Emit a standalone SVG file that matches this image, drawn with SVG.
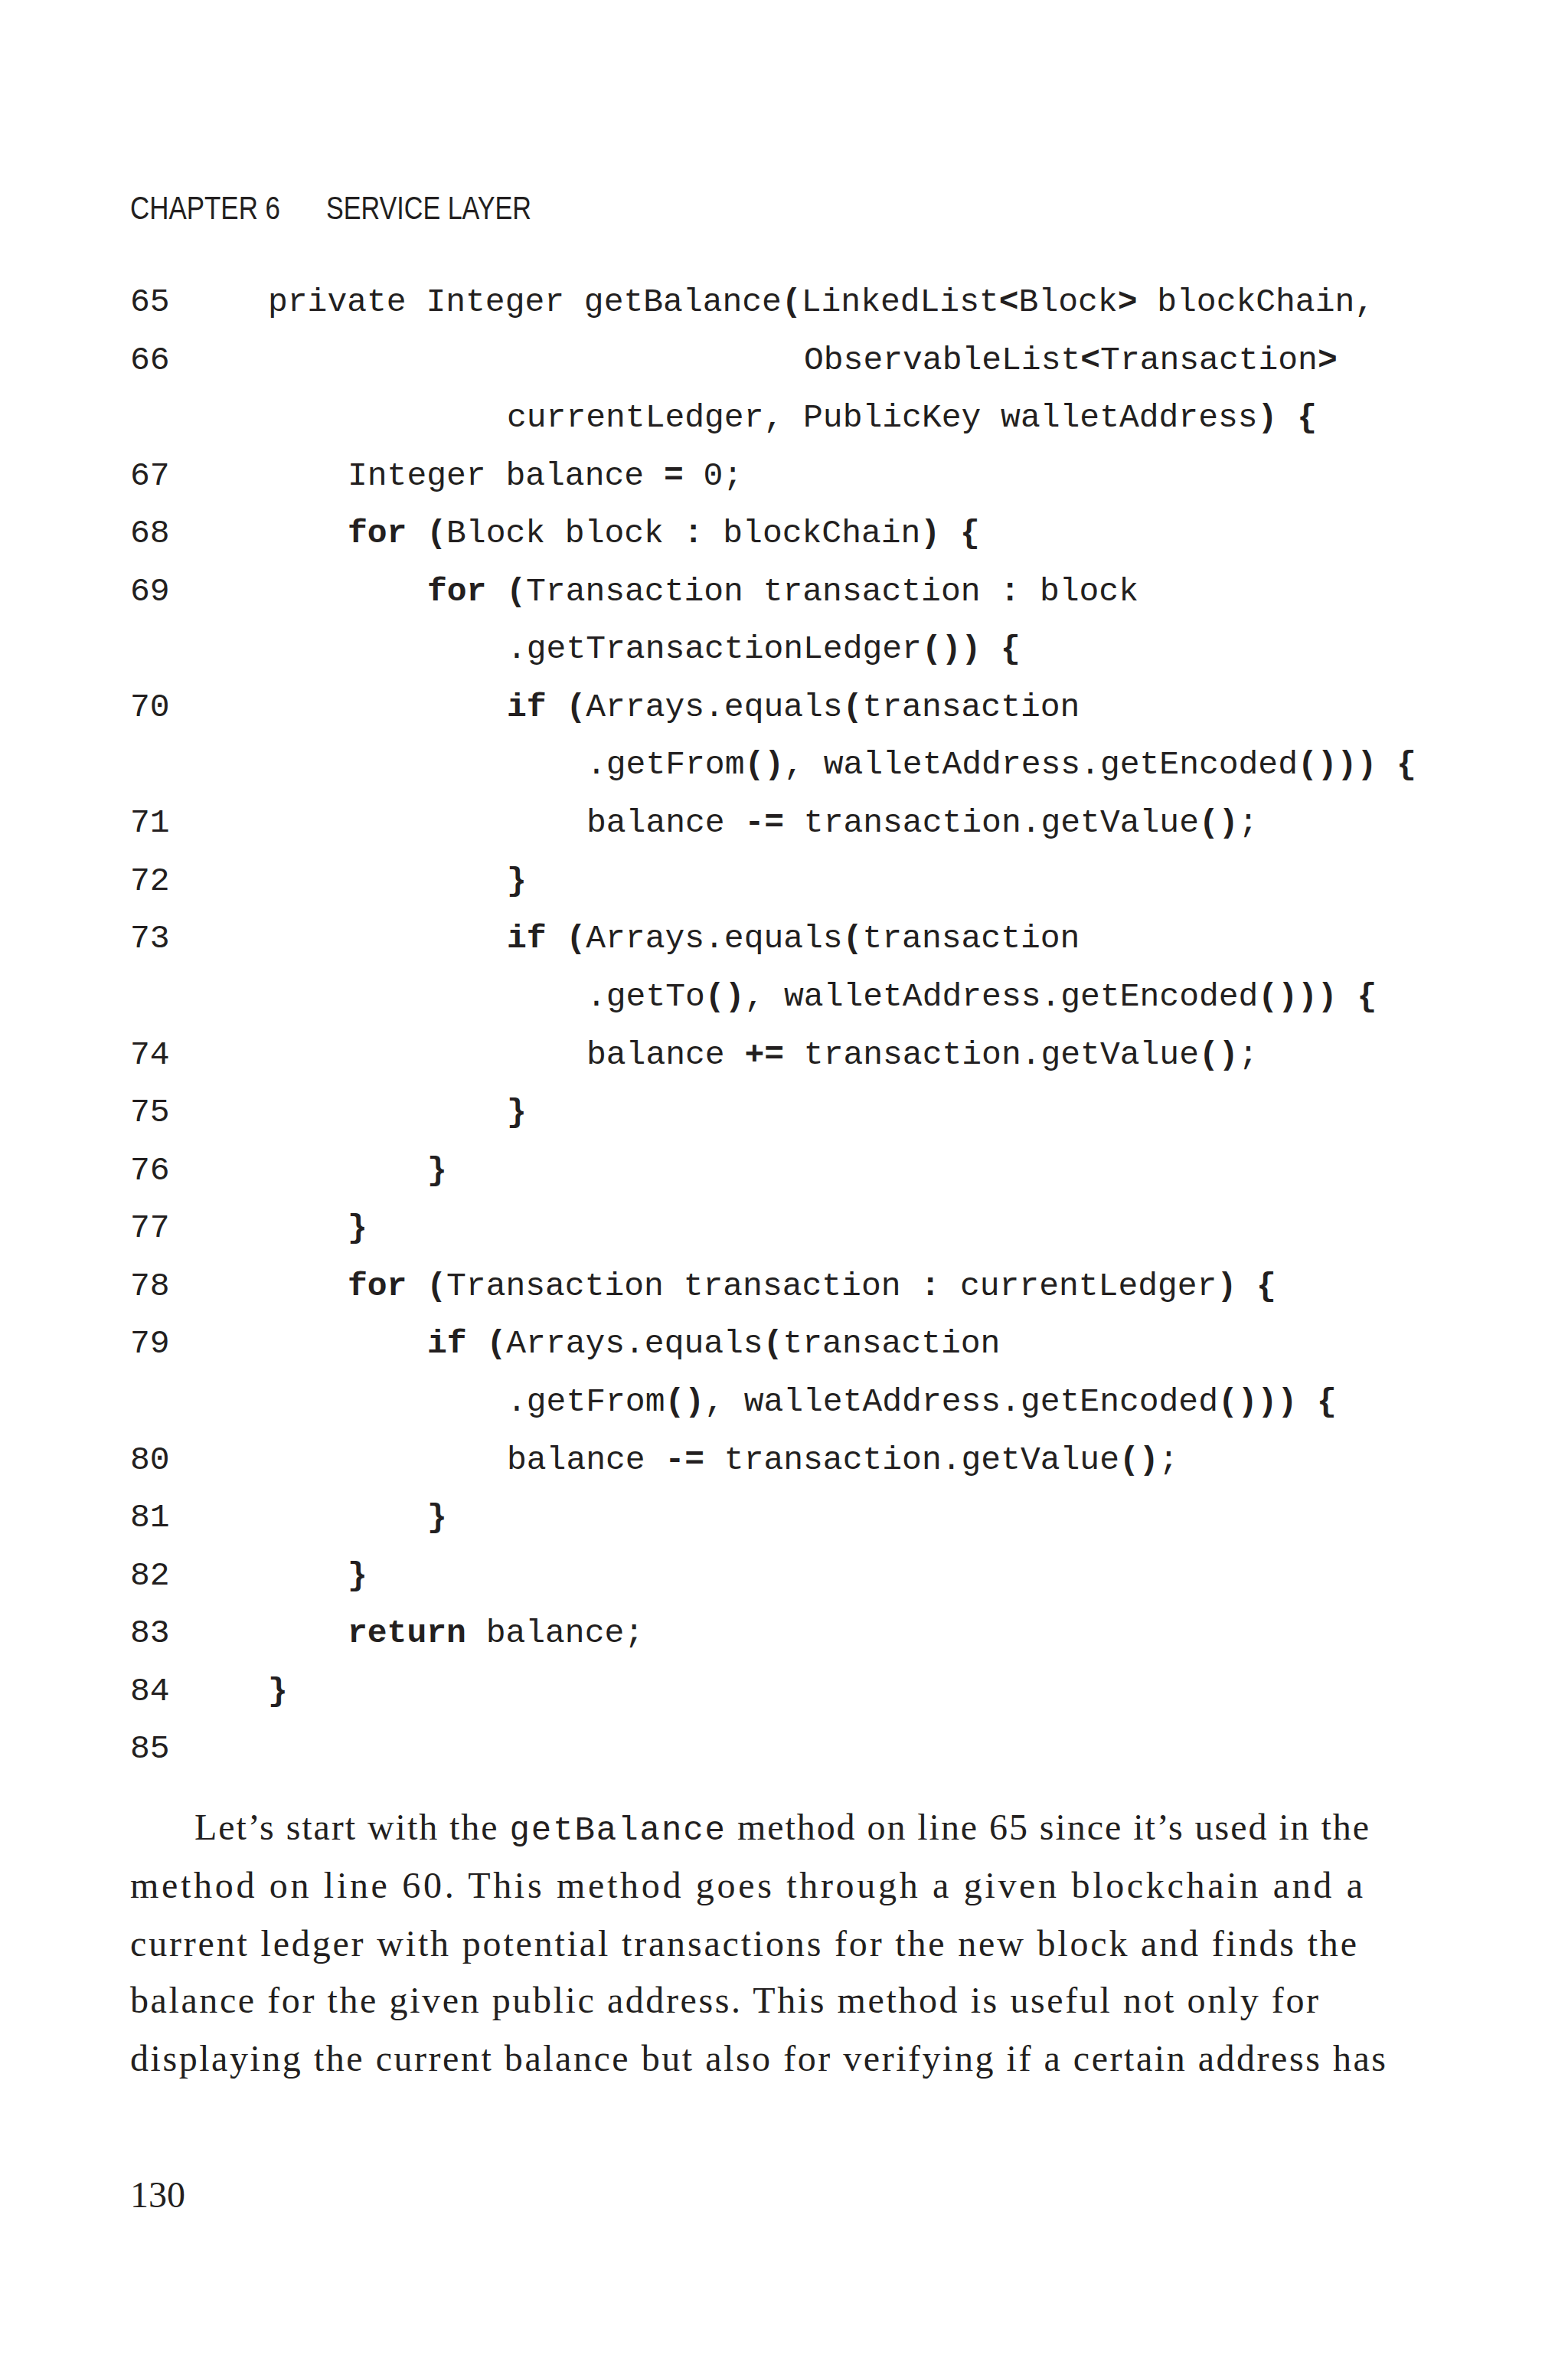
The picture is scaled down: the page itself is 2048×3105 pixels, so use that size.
<svg xmlns="http://www.w3.org/2000/svg" width="2048" height="3105" viewBox="0 0 2048 3105">
<style>
.c{font-family:"Liberation Mono","DejaVu Sans Mono",monospace;font-size:43px;fill:#231f20}
.n{font-family:"Liberation Mono",monospace;font-size:43px;fill:#231f20}
.b{font-weight:bold}
.h{font-family:"Liberation Sans",Arial,sans-serif;font-size:42px;fill:#231f20}
.p{font-family:"Liberation Serif","Times New Roman",serif;font-size:48px;fill:#231f20}
.pm{font-family:"Liberation Mono",monospace;font-size:44px}
</style>
<rect width="2048" height="3105" fill="#fff"/>
<text class="h" x="170" y="286" textLength="196" lengthAdjust="spacingAndGlyphs">CHAPTER 6</text>
<text class="h" x="426" y="286" textLength="268" lengthAdjust="spacingAndGlyphs">SERVICE LAYER</text>
<g class="n">
<text x="170" y="406">65</text><text x="170" y="482">66</text><text x="170" y="633">67</text><text x="170" y="708">68</text><text x="170" y="784">69</text><text x="170" y="935">70</text><text x="170" y="1086">71</text><text x="170" y="1162">72</text><text x="170" y="1237">73</text><text x="170" y="1389">74</text><text x="170" y="1464">75</text><text x="170" y="1540">76</text><text x="170" y="1615">77</text><text x="170" y="1691">78</text><text x="170" y="1766">79</text><text x="170" y="1918">80</text><text x="170" y="1993">81</text><text x="170" y="2069">82</text><text x="170" y="2144">83</text><text x="170" y="2220">84</text><text x="170" y="2295">85</text>
</g>
<g class="c">
<text x="350" y="406">private Integer getBalance<tspan class="b">(</tspan>LinkedList<tspan class="b">&lt;</tspan>Block<tspan class="b">&gt;</tspan> blockChain,</text>
<text x="1050" y="482">ObservableList<tspan class="b">&lt;</tspan>Transaction<tspan class="b">&gt;</tspan></text>
<text x="662" y="557">currentLedger, PublicKey walletAddress<tspan class="b">) {</tspan></text>
<text x="454" y="633">Integer balance <tspan class="b">=</tspan> 0;</text>
<text x="454" y="708"><tspan class="b">for (</tspan>Block block <tspan class="b">:</tspan> blockChain<tspan class="b">) {</tspan></text>
<text x="558" y="784"><tspan class="b">for (</tspan>Transaction transaction <tspan class="b">:</tspan> block</text>
<text x="662" y="859">.getTransactionLedger<tspan class="b">()) {</tspan></text>
<text x="662" y="935"><tspan class="b">if (</tspan>Arrays.equals<tspan class="b">(</tspan>transaction</text>
<text x="766" y="1010">.getFrom<tspan class="b">()</tspan>, walletAddress.getEncoded<tspan class="b">())) {</tspan></text>
<text x="766" y="1086">balance <tspan class="b">-=</tspan> transaction.getValue<tspan class="b">()</tspan>;</text>
<text x="662" y="1162" class="b">}</text>
<text x="662" y="1237"><tspan class="b">if (</tspan>Arrays.equals<tspan class="b">(</tspan>transaction</text>
<text x="766" y="1313">.getTo<tspan class="b">()</tspan>, walletAddress.getEncoded<tspan class="b">())) {</tspan></text>
<text x="766" y="1389">balance <tspan class="b">+=</tspan> transaction.getValue<tspan class="b">()</tspan>;</text>
<text x="662" y="1464" class="b">}</text>
<text x="558" y="1540" class="b">}</text>
<text x="454" y="1615" class="b">}</text>
<text x="454" y="1691"><tspan class="b">for (</tspan>Transaction transaction <tspan class="b">:</tspan> currentLedger<tspan class="b">) {</tspan></text>
<text x="558" y="1766"><tspan class="b">if (</tspan>Arrays.equals<tspan class="b">(</tspan>transaction</text>
<text x="662" y="1842">.getFrom<tspan class="b">()</tspan>, walletAddress.getEncoded<tspan class="b">())) {</tspan></text>
<text x="662" y="1918">balance <tspan class="b">-=</tspan> transaction.getValue<tspan class="b">()</tspan>;</text>
<text x="558" y="1993" class="b">}</text>
<text x="454" y="2069" class="b">}</text>
<text x="454" y="2144"><tspan class="b">return</tspan> balance;</text>
<text x="350" y="2220" class="b">}</text>
</g>
<g class="p">
<text x="254" y="2402" textLength="1534" lengthAdjust="spacing">Let’s start with the <tspan class="pm">getBalance</tspan> method on line 65 since it’s used in the</text>
<text x="170" y="2478" textLength="1610" lengthAdjust="spacing">method on line 60. This method goes through a given blockchain and a</text>
<text x="170" y="2554" textLength="1602" lengthAdjust="spacing">current ledger with potential transactions for the new block and finds the</text>
<text x="170" y="2628" textLength="1552" lengthAdjust="spacing">balance for the given public address. This method is useful not only for</text>
<text x="170" y="2704" textLength="1640" lengthAdjust="spacing">displaying the current balance but also for verifying if a certain address has</text>
<text x="170" y="2882">130</text>
</g>
</svg>
